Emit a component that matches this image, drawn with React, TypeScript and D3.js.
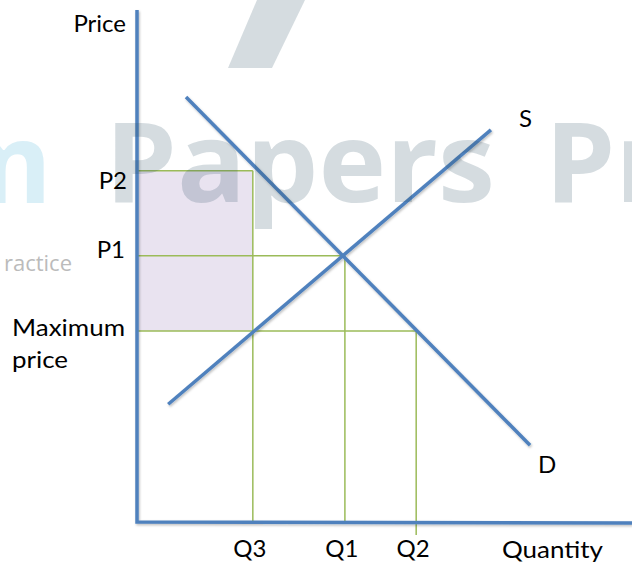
import React from "react";
import * as d3 from "d3";

// Abstract economic units (quantity 0-100, price 0-100)
const demandLine = [
  { q: 9.9, p: 83.0 },
  { q: 79.4, p: 15.0 },
];
const supplyLine = [
  { q: 6.3, p: 23.0 },
  { q: 71.5, p: 76.6 },
];
const priceLevels = [
  { name: "P2", p: 68.6, q: 23.4 },
  { name: "P1", p: 52.0, q: 42.0 },
  { name: "Maximum price", p: 37.3, q: 56.4 },
];
const quantityLabels = [
  { name: "Q3", q: 23.4 },
  { name: "Q1", q: 42.0 },
  { name: "Q2", q: 56.4 },
];

const W = 632;
const H = 562;
const BLUE = "#4F81BD";
const GREEN = "#9BBB59";
const FONT = "Lato, 'Open Sans', sans-serif";

export default function App() {
  const x = d3.scaleLinear().domain([0, 100]).range([137, 632]);
  const y = d3.scaleLinear().domain([0, 100]).range([522, 10]);
  const line = d3
    .line<{ q: number; p: number }>()
    .x((d) => x(d.q))
    .y((d) => y(d.p));

  const p2 = priceLevels[0];
  const pMax = priceLevels[2];

  return (
    <svg
      width={W}
      height={H}
      style={{ position: "absolute", left: 0, top: 0, display: "block" }}
      fontFamily={FONT}
    >
      <defs>
        <filter id="sh" x="-10%" y="-10%" width="120%" height="120%">
          <feDropShadow dx="1" dy="1.5" stdDeviation="1" floodColor="#000" floodOpacity="0.25" />
        </filter>
      </defs>
      <rect width={W} height={H} fill="#fff" />
      {/* shaded area */}
      <rect
        x={x(0)}
        y={y(p2.p)}
        width={x(p2.q) - x(0)}
        height={y(pMax.p) - y(p2.p)}
        fill="#E9E3F0"
      />
      {/* green guide lines */}
      {priceLevels.map((d, i) => (
        <g key={d.name} stroke={GREEN} strokeWidth={1.5} fill="none">
          <line x1={x(0)} x2={x(d.q)} y1={y(d.p)} y2={y(d.p)} />
          <line x1={x(d.q)} x2={x(d.q)} y1={y(d.p)} y2={i === 2 ? y(0) + 13 : y(0)} />
        </g>
      ))}
      {/* demand & supply */}
      <g filter="url(#sh)">
        <path d={line(demandLine) || ""} stroke={BLUE} strokeWidth={3.5} fill="none" />
        <path d={line(supplyLine) || ""} stroke={BLUE} strokeWidth={3.5} fill="none" />
        {/* axes */}
        <path
          d={`M${x(0)},${y(0) - 512}L${x(0)},${y(0)}L${x(100)},${y(0) + 1}`}
          stroke={BLUE}
          strokeWidth={3.5}
          fill="none"
        />
      </g>
      {/* watermark */}
      <g fontFamily="'Open Sans', sans-serif" fontWeight={700} fontSize={112}>
        <polygon points="257,0 305,0 272,68 228,68" fill="#2f4f65" fillOpacity={0.2} />
        <text x={52} y={203} textAnchor="end" fill="#40b0d8" fillOpacity={0.2}>
          m
        </text>
        <text x={105} y={202} fill="#2f4f65" fillOpacity={0.2} textLength={390} lengthAdjust="spacingAndGlyphs">
          Papers
        </text>
        <text x={545} y={202} fill="#2f4f65" fillOpacity={0.2}>
          Pr
        </text>
      </g>
      <text x={72} y={271} textAnchor="end" fill="#bbbbbb" fontSize={22} fontFamily="'Open Sans', sans-serif">
        ractice
      </text>
      {/* labels */}
      <g fontSize={24} fill="#000">
        <text x={126} y={32} textAnchor="end">Price</text>
        <text x={127} y={189} textAnchor="end">{priceLevels[0].name}</text>
        <text x={125} y={258} textAnchor="end">{priceLevels[1].name}</text>
        <text x={12} y={336} textLength={113} lengthAdjust="spacingAndGlyphs">Maximum</text>
        <text x={12} y={368} textLength={56} lengthAdjust="spacingAndGlyphs">price</text>
        <text x={519} y={127}>S</text>
        <text x={538} y={473}>D</text>
        {quantityLabels.map((d) => (
          <text key={d.name} x={x(d.q) - 3} y={557} textAnchor="middle">
            {d.name}
          </text>
        ))}
        <text x={502} y={558} textLength={101} lengthAdjust="spacingAndGlyphs">Quantity</text>
      </g>
    </svg>
  );
}
